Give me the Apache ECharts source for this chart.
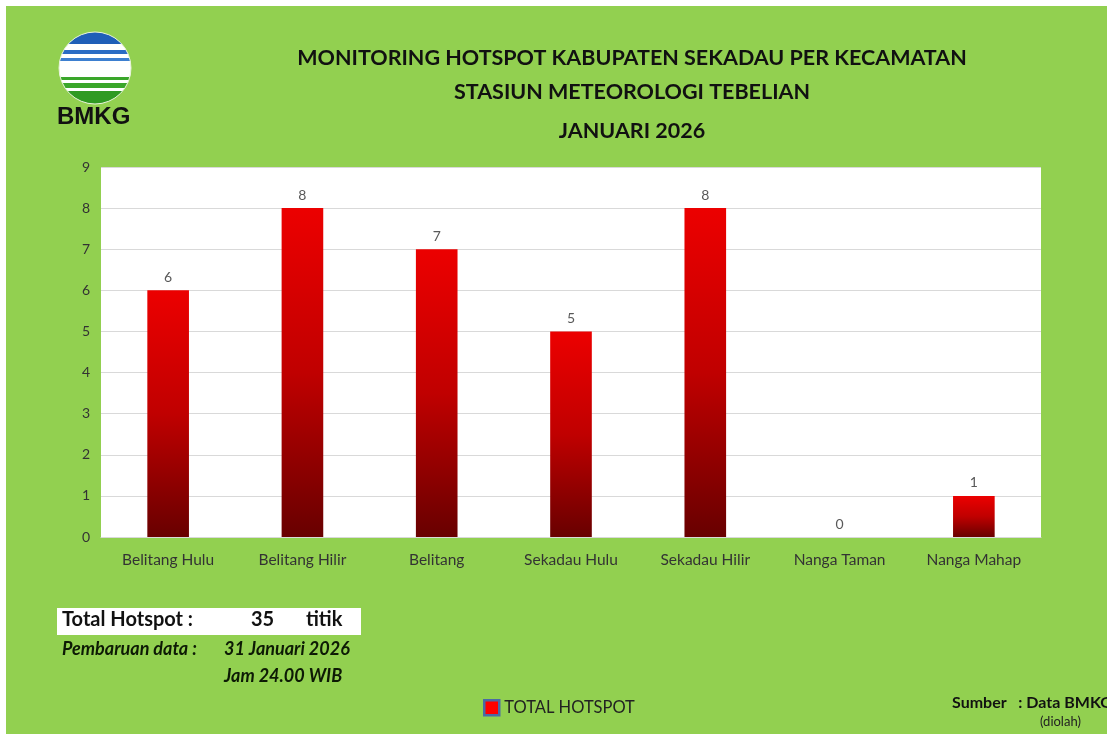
<!DOCTYPE html>
<html>
<head>
<meta charset="utf-8">
<script src="https://cdn.jsdelivr.net/npm/echarts@6/dist/echarts.min.js"></script>
<style>
  html, body { margin: 0; padding: 0; background: #fff; }
  #chart { width: 1107px; height: 734px; }
</style>
</head>
<body>
<div id="chart"></div>
<script>
// data
const kecamatan = ['Belitang Hulu', 'Belitang Hilir', 'Belitang', 'Sekadau Hulu', 'Sekadau Hilir', 'Nanga Taman', 'Nanga Mahap'];
const totalHotspot = [6, 8, 7, 5, 8, 0, 1];
const yMin = 0, yMax = 9, yStep = 1;

const titleLines = [
    'MONITORING HOTSPOT KABUPATEN SEKADAU PER KECAMATAN',
    'STASIUN METEOROLOGI TEBELIAN',
    'JANUARI 2026'
];

const font = 'Lato, "Open Sans", sans-serif';
const green = '#92D050';
const dark = '#0d1a05';

const chartDom = document.getElementById('chart');
const myChart = echarts.init(chartDom);

// striped fill for the logo circle (blue top, white middle, green bottom)
const logoFill = new echarts.graphic.LinearGradient(0, 0, 0, 1, [
    { offset: 0.00, color: '#1f5fb8' },
    { offset: 0.17, color: '#1f5fb8' },
    { offset: 0.17, color: '#ffffff' },
    { offset: 0.25, color: '#ffffff' },
    { offset: 0.25, color: '#2a6cc4' },
    { offset: 0.31, color: '#2a6cc4' },
    { offset: 0.31, color: '#ffffff' },
    { offset: 0.36, color: '#ffffff' },
    { offset: 0.36, color: '#3d7fd0' },
    { offset: 0.41, color: '#3d7fd0' },
    { offset: 0.41, color: '#ffffff' },
    { offset: 0.62, color: '#ffffff' },
    { offset: 0.62, color: '#3aa62a' },
    { offset: 0.67, color: '#3aa62a' },
    { offset: 0.67, color: '#ffffff' },
    { offset: 0.71, color: '#ffffff' },
    { offset: 0.71, color: '#3aa62a' },
    { offset: 0.77, color: '#3aa62a' },
    { offset: 0.77, color: '#ffffff' },
    { offset: 0.81, color: '#ffffff' },
    { offset: 0.81, color: '#2f9a22' },
    { offset: 1.00, color: '#2f9a22' }
]);

const option = {
    backgroundColor: '#ffffff',
    textStyle: { fontFamily: font },
    title: titleLines.map((t, i) => ({
        text: t,
        left: 627,
        textAlign: 'center',
        top: [42, 76, 115][i],
        textStyle: { fontFamily: font, fontSize: 21.5, fontWeight: 'bold', color: '#111' }
    })),
    legend: {
        data: ['TOTAL HOTSPOT'],
        left: 478,
        top: 694,
        icon: 'rect',
        itemWidth: 15,
        itemHeight: 15,
        itemGap: 8,
        itemStyle: { color: '#FF0000', borderColor: '#4a6aa5', borderWidth: 2.5 },
        textStyle: { fontFamily: font, fontSize: 16.5, color: '#222' }
    },
    grid: {
        left: 101,
        right: 66,
        top: 167,
        bottom: 197,
        show: true,
        backgroundColor: '#ffffff',
        borderWidth: 0,
        containLabel: false
    },
    xAxis: {
        type: 'category',
        data: kecamatan,
        axisLine: { show: true, lineStyle: { color: '#d9d9d9' } },
        axisTick: { show: false },
        axisLabel: { fontFamily: font, fontSize: 15.5, color: '#333', margin: 15 }
    },
    yAxis: {
        type: 'value',
        min: yMin,
        max: yMax,
        interval: yStep,
        axisLine: { show: false },
        axisTick: { show: false },
        axisLabel: { fontFamily: font, fontSize: 14, color: '#333', margin: 11 },
        splitLine: { lineStyle: { color: '#d9d9d9', width: 1 } }
    },
    series: [
        {
            name: 'TOTAL HOTSPOT',
            type: 'bar',
            data: totalHotspot,
            barWidth: '31%',
            itemStyle: {
                color: new echarts.graphic.LinearGradient(0, 0, 0, 1, [
                    { offset: 0, color: '#ec0000' },
                    { offset: 0.5, color: '#c00000' },
                    { offset: 1, color: '#680000' }
                ])
            },
            label: {
                show: true,
                position: 'top',
                distance: 6,
                fontFamily: font,
                fontSize: 14,
                color: '#595959'
            }
        }
    ],
    graphic: [
        // green page behind everything, with the thin white margin top/left
        { type: 'rect', z: -10, silent: true, shape: { x: 6, y: 6, width: 1101, height: 728 }, style: { fill: green } },
        // BMKG logo
        { type: 'circle', shape: { cx: 95, cy: 68, r: 36 }, style: { fill: logoFill, stroke: '#e8f3dc', lineWidth: 1 } },
        { type: 'text', left: 57, top: 105, style: { text: 'BMKG', font: 'bold 24px "Liberation Sans", Arial, sans-serif', fill: '#111' } },
        // total box
        { type: 'rect', shape: { x: 57, y: 608, width: 304, height: 27 }, style: { fill: '#ffffff' } },
        { type: 'text', left: 62, top: 610, style: { text: 'Total Hotspot :', font: 'bold 20px ' + font, fill: '#111' } },
        { type: 'text', left: 251, top: 610, style: { text: '35', font: 'bold 20px ' + font, fill: '#111' } },
        { type: 'text', left: 306, top: 610, style: { text: 'titik', font: 'bold 20px ' + font, fill: '#111' } },
        { type: 'text', left: 62, top: 640, style: { text: 'Pembaruan data :', font: 'italic bold 18px ' + font, fill: dark } },
        { type: 'text', left: 224, top: 640, style: { text: '31 Januari 2026', font: 'italic bold 18px ' + font, fill: dark } },
        { type: 'text', left: 224, top: 667, style: { text: 'Jam 24.00 WIB', font: 'italic bold 18px ' + font, fill: dark } },
        // source
        { type: 'text', left: 952, top: 695, style: { text: 'Sumber   : Data BMKG', font: 'bold 16px ' + font, fill: '#111' } },
        { type: 'text', left: 1040, top: 715, style: { text: '(diolah)', font: '13px ' + font, fill: '#222' } }
    ]
};

myChart.setOption(option);
</script>
</body>
</html>
